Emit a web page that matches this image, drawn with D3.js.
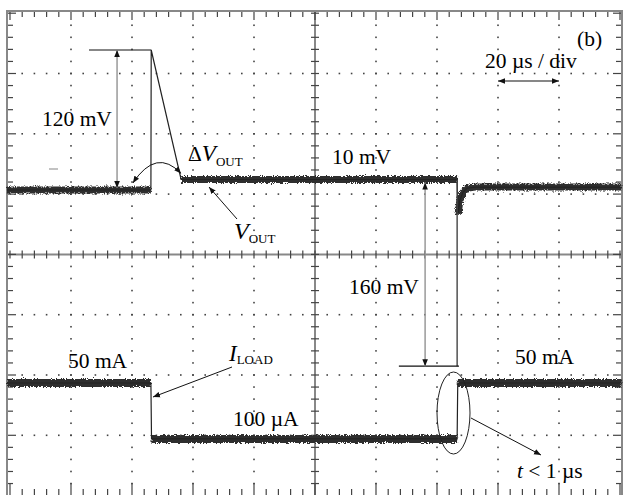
<!DOCTYPE html>
<html>
<head>
<meta charset="utf-8">
<script src="https://cdn.jsdelivr.net/npm/d3@7"></script>
<style>
  body { margin: 0; background: #fff; }
  text { font-family: "Liberation Serif", "Times New Roman", serif; fill: #000; }
</style>
</head>
<body>
<svg id="chart" width="624" height="495"></svg>
<script>
// time base: 20 us / div, 10 divisions
const timeDomain = [0, 200];
const divDomain = [-4, 4];

// V_OUT trace, mV relative to the 50 mA level
const vTime = [-1, 46.2, 46.3, 56.1, 146.6, 146.9, 147.5, 148.5, 149.8, 152.5, 200.5];
const vOut  = [0, 0, 120, 9, 9, -21, -9, -2, 1.5, 2.5, 2.5];

// I_LOAD trace, mA
const iTime = [-1, 46.2, 46.4, 146.6, 146.8, 200.5];
const iLoad = [50, 50, 0.1, 0.1, 50, 50];

// measured quantities shown on the screen
const overshoot = 120;   // mV
const settleStep = 9;    // mV ("10 mV")
const undershoot = 160;  // mV
const tOvershootMark = 35.1;
const tUndershootMark = 136.1;

const svg = d3.select("#chart");
const x = d3.scaleLinear().domain(timeDomain).range([10, 620]);
const yDiv = d3.scaleLinear().domain(divDomain).range([495.6, 13.2]);
const yV = d3.scaleLinear().domain([0, 120]).range([190, 50]);
const yI = d3.scaleLinear().domain([0, 50]).range([439, 383]);

const defs = svg.append("defs");
const grain = defs.append("filter").attr("id", "grain")
    .attr("filterUnits", "userSpaceOnUse")
    .attr("x", 0).attr("y", 0).attr("width", 624).attr("height", 495);
grain.append("feTurbulence").attr("type", "fractalNoise")
    .attr("baseFrequency", "0.9").attr("numOctaves", 2).attr("seed", 4).attr("result", "n");
grain.append("feDisplacementMap").attr("in", "SourceGraphic").attr("in2", "n")
    .attr("scale", 5).attr("xChannelSelector", "R").attr("yChannelSelector", "G");

defs.append("marker").attr("id", "head")
    .attr("viewBox", "0 0 10 10").attr("refX", 10).attr("refY", 5)
    .attr("markerUnits", "userSpaceOnUse")
    .attr("markerWidth", 7).attr("markerHeight", 7)
    .attr("orient", "auto-start-reverse")
    .append("path").attr("d", "M0,1L10,5L0,9Z").attr("fill", "#111");

// ---- graticule ----
const grid = svg.append("g");
const minorT = d3.range(0, 200.01, 4);
const minorD = d3.range(-4, 4.001, 0.2);
const majorT = d3.range(20, 200, 20).filter(t => t !== 100);
const majorD = [-3, -2, -1, 1, 2, 3];

// dotted lines
majorT.forEach(t => {
    grid.selectAll(null).data(minorD.slice(1, -1)).join("rect")
        .attr("x", x(t) - 0.8).attr("y", d => yDiv(d) - 0.8)
        .attr("width", 1.6).attr("height", 1.6).attr("fill", "#444");
});
majorD.forEach(dv => {
    grid.selectAll(null).data(minorT.slice(1, -1)).join("rect")
        .attr("x", d => x(d) - 0.8).attr("y", yDiv(dv) - 0.8)
        .attr("width", 1.6).attr("height", 1.6).attr("fill", "#444");
});

// centre cross
grid.append("line").attr("x1", 7).attr("x2", 622).attr("y1", yDiv(0)).attr("y2", yDiv(0))
    .attr("stroke", "#888").attr("stroke-width", 2);
grid.append("line").attr("x1", x(100)).attr("x2", x(100)).attr("y1", 11).attr("y2", 495)
    .attr("stroke", "#888").attr("stroke-width", 2);

const isMajorT = t => Math.abs(t / 20 - Math.round(t / 20)) < 1e-6;
const isMajorD = d => Math.abs(d - Math.round(d)) < 1e-6;

// ticks
grid.selectAll(null).data(minorT).join("line")
    .attr("x1", d => x(d)).attr("x2", d => x(d))
    .attr("y1", 11).attr("y2", d => isMajorT(d) ? 20 : 17)
    .attr("stroke", "#444").attr("stroke-width", 1.2);
grid.selectAll(null).data(minorT).join("line")
    .attr("x1", d => x(d)).attr("x2", d => x(d))
    .attr("y1", 495).attr("y2", d => isMajorT(d) ? 483 : 489)
    .attr("stroke", "#444").attr("stroke-width", 1.2);
grid.selectAll(null).data(minorT).join("line")
    .attr("x1", d => x(d)).attr("x2", d => x(d))
    .attr("y1", yDiv(0) - 4).attr("y2", yDiv(0) + 4)
    .attr("stroke", "#444").attr("stroke-width", 1.2);
grid.selectAll(null).data(minorD).join("line")
    .attr("x1", 7).attr("x2", d => isMajorD(d) ? 16 : 13)
    .attr("y1", d => yDiv(d)).attr("y2", d => yDiv(d))
    .attr("stroke", "#444").attr("stroke-width", 1.2);
grid.selectAll(null).data(minorD).join("line")
    .attr("x1", 622).attr("x2", d => isMajorD(d) ? 613 : 616)
    .attr("y1", d => yDiv(d)).attr("y2", d => yDiv(d))
    .attr("stroke", "#444").attr("stroke-width", 1.2);
grid.selectAll(null).data(minorD).join("line")
    .attr("x1", x(100) - 4).attr("x2", x(100) + 4)
    .attr("y1", d => yDiv(d)).attr("y2", d => yDiv(d))
    .attr("stroke", "#444").attr("stroke-width", 1.2);

grid.append("rect").attr("x", 7).attr("y", 11).attr("width", 615).attr("height", 490)
    .attr("fill", "none").attr("stroke", "#888").attr("stroke-width", 2);

// ---- traces ----
function runs(pts) {
    const out = [[pts[0]]];
    for (let k = 1; k < pts.length; k++) {
        const a = pts[k - 1], b = pts[k];
        const dy = Math.abs(b[1] - a[1]), dx = Math.abs(b[0] - a[0]);
        if (dy > 20 && dy > 3 * dx) out.push([b]);
        else out[out.length - 1].push(b);
    }
    return out.filter(r => r.length > 1);
}

const line = d3.line();
const traces = svg.append("g");

function drawTrace(ts, vs, yScale, width) {
    const pts = ts.map((t, k) => [x(t), yScale(vs[k])]);
    traces.append("g").attr("filter", "url(#grain)")
        .selectAll("path").data(runs(pts)).join("path")
        .attr("d", line).attr("fill", "none")
        .attr("stroke", "#2e2e2e").attr("stroke-width", width);
    traces.append("path").attr("d", line(pts)).attr("fill", "none")
        .attr("stroke", "#222").attr("stroke-width", 1.2);
}
drawTrace(vTime, vOut, yV, 7);
drawTrace(iTime, iLoad, yI, 8);

// ---- annotations ----
const ann = svg.append("g");

// 120 mV overshoot
ann.append("line").attr("x1", x(25.9)).attr("x2", x(46.3))
    .attr("y1", yV(overshoot)).attr("y2", yV(overshoot))
    .attr("stroke", "#111").attr("stroke-width", 1.2);
ann.append("line").attr("x1", x(tOvershootMark)).attr("x2", x(tOvershootMark))
    .attr("y1", yV(overshoot)).attr("y2", yV(0) - 2)
    .attr("stroke", "#999").attr("stroke-width", 1.5)
    .attr("marker-start", "url(#head)").attr("marker-end", "url(#head)");

// delta V_OUT curved arrow
ann.append("path").attr("d", `M${x(56.1)},${yV(settleStep) - 6} Q${x(48)},${yV(settleStep) - 32} ${x(40.3)},${yV(0) - 7}`)
    .attr("fill", "none").attr("stroke", "#111").attr("stroke-width", 1)
    .attr("marker-start", "url(#head)").attr("marker-end", "url(#head)");

// V_OUT pointer
ann.append("line").attr("x1", 237).attr("y1", 219).attr("x2", 209).attr("y2", 187)
    .attr("stroke", "#111").attr("stroke-width", 1).attr("marker-end", "url(#head)");

// 160 mV undershoot
ann.append("line").attr("x1", x(146.6)).attr("x2", x(146.6))
    .attr("y1", yV(settleStep)).attr("y2", yV(settleStep - undershoot))
    .attr("stroke", "#444").attr("stroke-width", 1.4);
ann.append("line").attr("x1", x(127.5)).attr("x2", x(147.2))
    .attr("y1", yV(settleStep - undershoot)).attr("y2", yV(settleStep - undershoot))
    .attr("stroke", "#111").attr("stroke-width", 1.2);
ann.append("line").attr("x1", x(tUndershootMark)).attr("x2", x(tUndershootMark))
    .attr("y1", yV(settleStep) + 3).attr("y2", yV(settleStep - undershoot))
    .attr("stroke", "#999").attr("stroke-width", 1.5)
    .attr("marker-start", "url(#head)").attr("marker-end", "url(#head)");

// time scale arrow
ann.append("line").attr("x1", x(160)).attr("x2", x(180)).attr("y1", 81).attr("y2", 81)
    .attr("stroke", "#111").attr("stroke-width", 1.2)
    .attr("marker-start", "url(#head)").attr("marker-end", "url(#head)");

// I_LOAD pointer
ann.append("line").attr("x1", 232).attr("y1", 367).attr("x2", 153).attr("y2", 397)
    .attr("stroke", "#111").attr("stroke-width", 1).attr("marker-end", "url(#head)");

// rise-time ellipse and pointer
ann.append("ellipse").attr("cx", 453.5).attr("cy", 413).attr("rx", 16.5).attr("ry", 41)
    .attr("fill", "none").attr("stroke", "#222").attr("stroke-width", 1);
ann.append("line").attr("x1", 471).attr("y1", 418).attr("x2", 541).attr("y2", 455)
    .attr("stroke", "#111").attr("stroke-width", 1).attr("marker-end", "url(#head)");

// small marker dash
ann.append("line").attr("x1", 49).attr("x2", 58).attr("y1", 169).attr("y2", 169)
    .attr("stroke", "#999").attr("stroke-width", 1.2);

// ---- labels ----
const labels = svg.append("g").attr("font-size", 21.5);
function label(px, py, parts) {
    const t = labels.append("text").attr("x", px).attr("y", py);
    parts.forEach(p => {
        const s = t.append("tspan").text(p.s);
        if (p.it) s.attr("font-style", "italic");
        if (p.size) s.attr("font-size", p.size);
        if (p.dy) s.attr("dy", p.dy);
    });
}
label(42, 126, [{ s: "120 mV" }]);
label(188, 161, [{ s: "Δ" }, { s: "V", it: true, size: 23 }, { s: "OUT", size: 13, dy: 5 }]);
label(234, 239, [{ s: "V", it: true, size: 24 }, { s: "OUT", size: 13, dy: 4 }]);
label(332, 164, [{ s: "10 mV" }]);
label(577, 46, [{ s: "(b)" }]);
label(485, 68, [{ s: "20 µs / div" }]);
label(349, 294, [{ s: "160 mV" }]);
label(68, 368, [{ s: "50 mA" }]);
label(229, 361, [{ s: "I", it: true, size: 23 }, { s: "LOAD", size: 13, dy: 3 }]);
label(233, 426, [{ s: "100 µA" }]);
label(515, 364, [{ s: "50 mA" }]);
label(517, 478, [{ s: "t", it: true }, { s: " < 1 µs" }]);
</script>
</body>
</html>
